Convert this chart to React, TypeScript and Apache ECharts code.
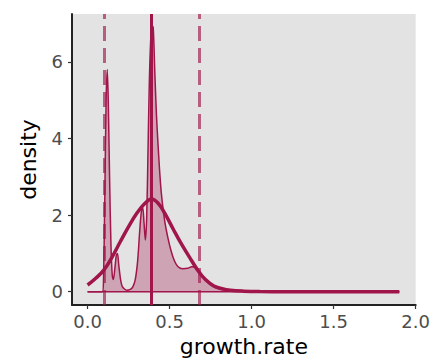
import React, { useEffect, useRef } from "react";
import * as echarts from "echarts";

// Kernel density of growth.rate
const densityX = [0.0, 0.05, 0.09, 0.097, 0.105, 0.113, 0.12, 0.126, 0.134, 0.142, 0.15, 0.157, 0.166, 0.175, 0.182, 0.19, 0.2, 0.21, 0.225, 0.24, 0.26, 0.275, 0.29, 0.305, 0.318, 0.328, 0.336, 0.344, 0.352, 0.36, 0.368, 0.376, 0.384, 0.392, 0.4, 0.41, 0.42, 0.43, 0.44, 0.45, 0.47, 0.49, 0.51, 0.53, 0.55, 0.58, 0.61, 0.635, 0.66, 0.68, 0.7, 0.72, 0.75, 0.78, 0.82, 0.88, 0.95, 1.05, 1.2, 1.5, 1.9];
const densityY = [0.0, 0.0, 0.0, 0.3, 2.5, 5.0, 5.8, 5.0, 3.0, 1.3, 0.45, 0.32, 0.6, 0.95, 1.0, 0.7, 0.35, 0.15, 0.07, 0.04, 0.06, 0.12, 0.3, 0.8, 1.6, 2.1, 2.2, 1.8, 1.35, 1.9, 3.6, 5.4, 6.5, 6.95, 6.9, 5.7, 4.6, 3.8, 3.1, 2.55, 1.85, 1.4, 1.05, 0.8, 0.66, 0.6, 0.61, 0.65, 0.62, 0.52, 0.4, 0.3, 0.18, 0.1, 0.05, 0.02, 0.01, 0.004, 0.001, 0.0, 0.0];

// Fitted normal curve
const normalX = [0.0, 0.05, 0.1, 0.15, 0.2, 0.25, 0.3, 0.35, 0.39, 0.43, 0.47, 0.52, 0.57, 0.62, 0.67, 0.72, 0.77, 0.82, 0.87, 0.95, 1.05, 1.2, 1.5, 1.9];
const normalY = [0.175, 0.35, 0.57, 0.91, 1.31, 1.7, 2.05, 2.31, 2.42, 2.31, 2.05, 1.65, 1.26, 0.91, 0.57, 0.31, 0.15, 0.08, 0.04, 0.015, 0.004, 0.001, 0.0, 0.0];

// Reference lines
const meanLine = 0.39;
const boundLines = [0.1, 0.68];

const xTicks = [0, 0.5, 1.0, 1.5, 2.0];
const yTicks = [0, 2, 4, 6];

const CRIMSON = "#A0154A";
const FONT = "DejaVu Sans";

export default function App() {
  const ref = useRef<HTMLDivElement>(null);
  useEffect(() => {
    if (!ref.current) return;
    const chart = echarts.init(ref.current, undefined, { renderer: "svg" });
    const density = densityX.map((x, i) => [x, densityY[i]]);
    const normal = normalX.map((x, i) => [x, normalY[i]]);
    chart.setOption({
      animation: false,
      backgroundColor: "#ffffff",
      grid: { left: 72, top: 14, right: 10, bottom: 58, show: true, backgroundColor: "#E3E3E3", borderWidth: 0 },
      xAxis: {
        type: "value",
        min: -0.095,
        max: 2.0,
        name: "growth.rate",
        nameLocation: "middle",
        nameGap: 30,
        nameTextStyle: { color: "#000", fontSize: 22, fontFamily: FONT },
        splitLine: { show: false },
        axisLine: { show: true, onZero: false, lineStyle: { color: "#222", width: 2 } },
        axisTick: { show: true, length: 4, customValues: xTicks, lineStyle: { color: "#333", width: 1.2 } },
        axisLabel: {
          customValues: xTicks,
          margin: 7,
          color: "#4D4D4D",
          fontSize: 18,
          fontFamily: FONT,
          formatter: (v: number) => v.toFixed(1),
        },
      },
      yAxis: {
        type: "value",
        min: -0.347,
        max: 7.25,
        name: "density",
        nameLocation: "middle",
        nameGap: 33,
        nameRotate: 90,
        nameTextStyle: { color: "#000", fontSize: 22, fontFamily: FONT },
        splitLine: { show: false },
        axisLine: { show: true, onZero: false, lineStyle: { color: "#222", width: 2 } },
        axisTick: { show: true, length: 4, customValues: yTicks, lineStyle: { color: "#333", width: 1.2 } },
        axisLabel: {
          customValues: yTicks,
          margin: 9,
          color: "#4D4D4D",
          fontSize: 18,
          fontFamily: FONT,
          formatter: (v: number) => String(v),
        },
      },
      series: [
        {
          type: "line",
          data: density,
          smooth: 0.3,
          showSymbol: false,
          lineStyle: { color: CRIMSON, width: 1.5 },
          areaStyle: { color: CRIMSON, opacity: 0.3 },
          z: 2,
        },
        {
          type: "line",
          data: [[0, 0], [1.9, 0]],
          showSymbol: false,
          lineStyle: { color: CRIMSON, width: 1.5 },
          z: 2,
        },
        {
          type: "line",
          data: normal,
          smooth: 0.4,
          showSymbol: false,
          lineStyle: { color: CRIMSON, width: 3.5 },
          z: 3,
        },
        {
          type: "line",
          data: [],
          z: 4,
          markLine: {
            silent: true,
            symbol: ["none", "none"],
            label: { show: false },
            data: [
              { xAxis: boundLines[0], lineStyle: { color: CRIMSON, width: 3, type: [15, 7], opacity: 0.65 } },
              { xAxis: boundLines[1], lineStyle: { color: CRIMSON, width: 3, type: [15, 7], opacity: 0.65 } },
              { xAxis: meanLine, lineStyle: { color: CRIMSON, width: 3, type: "solid", opacity: 1 } },
            ],
          },
        },
      ],
    });
    return () => chart.dispose();
  }, []);
  return <div ref={ref} style={{ position: "fixed", left: 0, top: 0, width: 433, height: 363 }} />;
}
